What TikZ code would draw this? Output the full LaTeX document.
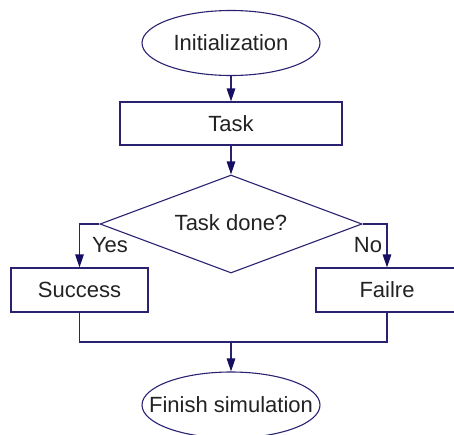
\documentclass[tikz,border=0pt]{standalone}
\usepackage{fontspec}
\setmainfont{Liberation Sans}
\usetikzlibrary{shapes.geometric,arrows.meta}
\definecolor{flowline}{RGB}{40,34,112}
\definecolor{flowtip}{RGB}{22,14,96}
\definecolor{flowtext}{RGB}{34,34,34}
\begin{document}
\begin{tikzpicture}[x=1pt,y=-1pt,
  every node/.style={font=\fontsize{22}{26}\selectfont, text=flowtext},
  box/.style={draw=flowline, line width=1.1pt, rectangle, inner sep=0pt},
  term/.style={draw=flowline, line width=1.1pt, ellipse, inner sep=0pt,
    minimum width=178pt},
  decision/.style={draw=flowline, line width=1.1pt, diamond, inner sep=0pt,
    minimum width=262pt, minimum height=98pt},
  link/.style={draw=flowline, line width=1.1pt},
  flow/.style={link, -{Triangle[length=13pt,width=8.5pt,fill=flowtip,color=flowtip]}},
  tag/.style={inner sep=0pt}]
  \useasboundingbox (0,0) rectangle (454,434);
  \clip (0,0) rectangle (454,434);

  % terminals: outline drawn on its own, label set on top
  \node[term, minimum height=65pt] (init) at (231,43) {};
  \node (inittext) at (231,43) {Initialization};
  \node[box, minimum width=222pt, minimum height=43pt] (task) at (231,123.5) {Task};
  \node[decision] (check) at (231,224) {};
  \node (checktext) at (231,223) {Task done?};
  \node[box, minimum width=137pt, minimum height=44pt] (success) at (79.5,290) {Success};
  \node[box, minimum width=142pt, minimum height=44pt] (failure) at (387,290) {Failre};
  \node[term, minimum height=66pt] (finish) at (231,405) {};
  \node (finishtext) at (231,405) {Finish simulation};
  \coordinate (merge) at (231,342);

  \draw[flow] (init) -- (task);
  \draw[flow] (task) -- (check.north);
  \draw[flow] (check.west) -| (success.north);
  \draw[flow] (check.east) -| (failure.north);
  \draw[link] (success.south) |- (merge) -| (failure.south);
  \draw[flow] (merge) -- (finish.north);

  \node[tag] (yes) at (110,245) {Yes};
  \node[tag] (no) at (368,245) {No};
\end{tikzpicture}
\end{document}
